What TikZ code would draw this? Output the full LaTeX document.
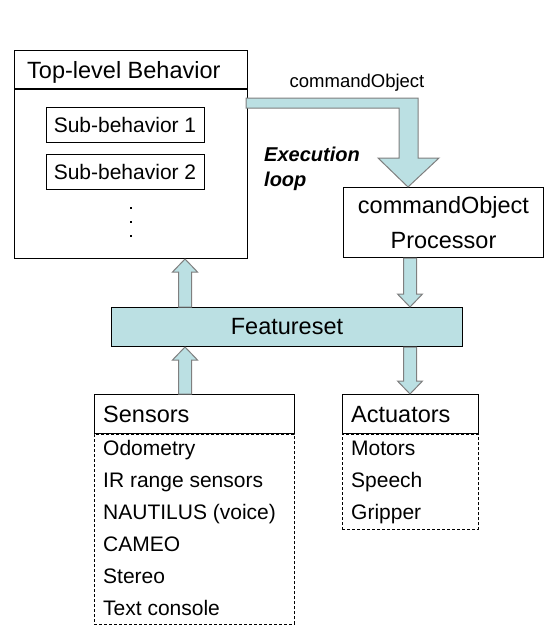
\documentclass[tikz,border=0pt]{standalone}
\usepackage{fontspec}
\setmainfont{Liberation Sans}
\usetikzlibrary{calc}
\definecolor{figfill}{HTML}{BBE0E3}
\definecolor{figedge}{HTML}{7F7F7F}
\tikzset{
  box/.style={draw,line width=1pt,rectangle,inner sep=0pt},
  listbox/.style={draw,line width=0.8pt,dashed,dash pattern=on 3pt off 2pt,rectangle,inner sep=0pt},
  headtext/.style={anchor=base west,inner sep=0pt,font=\fontsize{23.5}{28}\selectfont},
  itemtext/.style={anchor=base west,inner sep=0pt,font=\fontsize{21}{25}\selectfont},
  blockarrow/.style={fill=figfill,draw=figedge,line width=1pt,line join=miter}
}
% vertical block arrow from #1 to the tip #2
\newcommand{\vblock}[2]{%
  \draw[blockarrow] let \p1=#1, \p2=#2, \n1={(\y2-\y1)/abs(\y2-\y1)} in
    (\x1-6.5pt,\y1) -- (\x1-6.5pt,\y2-\n1*13pt) -- (\x1-12.5pt,\y2-\n1*13pt)
    -- (\x1,\y2) -- (\x1+12.5pt,\y2-\n1*13pt) -- (\x1+6.5pt,\y2-\n1*13pt)
    -- (\x1+6.5pt,\y1) -- cycle;}

\begin{document}
\begin{tikzpicture}[x=1pt,y=-1pt]
  \useasboundingbox (0,0) rectangle (553,638);

  % top-level behavior
  \node[box,minimum width=233,minimum height=208,anchor=north west] (top) at (14,50) {};
  \draw[line width=2pt] ($(top.north west)+(0,39)$) -- ($(top.north east)+(0,39)$);
  \node[headtext] (toptitle) at (27,78.5) {Top-level Behavior};
  \node[box,minimum width=158,minimum height=35,font=\fontsize{21}{25}\selectfont] (sub1) at (125,124.5) {Sub-behavior 1};
  \node[box,minimum width=158,minimum height=35,font=\fontsize{21}{25}\selectfont] (sub2) at (125,172) {Sub-behavior 2};
  \foreach \y in {208,222,236}
    \fill (129.8,\y-1.2) rectangle (132.2,\y+1.2);

  % processor
  \node[box,minimum width=200,minimum height=70,anchor=north west,align=center,
        font=\fontsize{23.5}{35}\selectfont] (proc) at (343,187) {commandObject\\Processor};

  % featureset
  \node[box,fill=figfill,minimum width=351,minimum height=39,anchor=north west,
        font=\fontsize{23.5}{28}\selectfont] (feat) at (111,307) {Featureset};

  % sensors
  \node[box,minimum width=200,minimum height=39,anchor=north west] (sens) at (94,394) {};
  \node[headtext] (senstitle) at (103,422) {Sensors};
  \node[listbox,minimum width=200,minimum height=190,anchor=north west] (senslist) at (sens.south west) {};
  \foreach \t [count=\i from 0] in {Odometry,IR range sensors,NAUTILUS (voice),CAMEO,Stereo,Text console}
    \node[itemtext] (sens\i) at (103,455.5+32*\i) {\t};

  % actuators
  \node[box,minimum width=136,minimum height=39,anchor=north west] (act) at (342,394) {};
  \node[headtext] (acttitle) at (351,422) {Actuators};
  \node[listbox,minimum width=136,minimum height=95,anchor=north west] (actlist) at (act.south west) {};
  \foreach \t [count=\i from 0] in {Motors,Speech,Gripper}
    \node[itemtext] (act\i) at (351,455.5+32*\i) {\t};

  % execution loop arrow
  \coordinate (cmdstart) at ($(top.north east)+(-2,48)$);
  \coordinate (cmdtip) at ($(proc.north west)+(65,0)$);
  \draw[blockarrow] let \p1=(cmdstart), \p2=(cmdtip) in
    (\x1,\y1) -- (\x2+10pt,\y1) -- (\x2+10pt,\y2+29pt) -- (\x2+31pt,\y2+29pt)
    -- (\x2,\y2) -- (\x2-30pt,\y2+29pt) -- (\x2-9pt,\y2+29pt)
    -- (\x2-9pt,\y1-10pt) -- (\x1,\y1-10pt) -- cycle;
  \node[inner sep=0pt,font=\fontsize{18.5}{22}\selectfont] (cmdlabel) at (357,83) {commandObject};
  \node[anchor=north west,inner sep=0pt,align=left,font=\fontsize{20}{25}\selectfont\bfseries\itshape] (loop) at (264,147) {Execution\\loop};

  % featureset connections
  \vblock{($(feat.north west)+(74,0)$)}{($(top.south west)+(171,0)$)}
  \vblock{($(proc.south west)+(67,0)$)}{($(feat.north west)+(299,0)$)}
  \vblock{($(sens.north west)+(91,0)$)}{($(feat.south west)+(74,0)$)}
  \vblock{($(feat.south west)+(299,0)$)}{($(act.north west)+(68,0)$)}
\end{tikzpicture}
\end{document}
